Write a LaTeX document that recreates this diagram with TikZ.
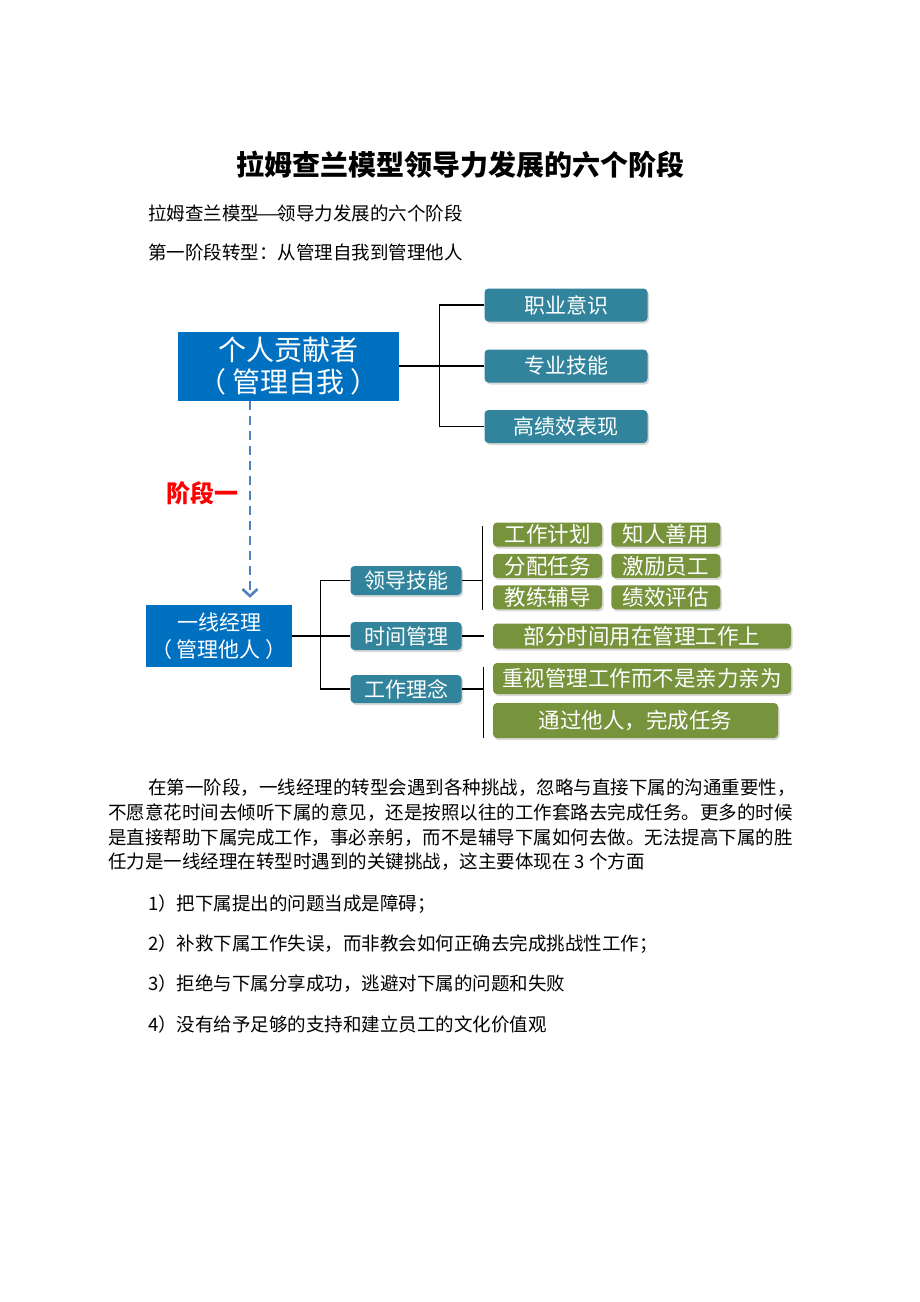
\documentclass[tikz,border=0pt]{standalone}
\usepackage{fontspec}
\usepackage{xcolor}
\usepackage{tikz}
\setmainfont{Noto Sans CJK SC}
\usetikzlibrary{calc}
\usetikzlibrary{shadows, positioning, arrows.meta}
\definecolor{boxblue}{HTML}{0070C0}
\definecolor{tealbox}{HTML}{31849B}
\definecolor{greenbox}{HTML}{77933C}
\definecolor{arrowblue}{HTML}{4F81BD}
\XeTeXlinebreaklocale "zh"
\XeTeXlinebreakskip=0pt plus 3pt

\begin{document}
\begin{tikzpicture}[x=1pt,y=-1pt,
    blue node/.style={fill=boxblue,text=white,align=center,inner sep=0pt},
    teal node/.style={fill=tealbox,text=white,rounded corners=4pt,inner sep=0pt,
      drop shadow={shadow xshift=1.5pt,shadow yshift=-2pt,opacity=0.3},
      font=\fontsize{21}{25}\selectfont},
    green node/.style={fill=greenbox,text=white,rounded corners=4pt,inner sep=0pt,
      drop shadow={shadow xshift=1.5pt,shadow yshift=-2pt,opacity=0.3},
      font=\fontsize{21.5}{25}\selectfont},
    small green/.style={green node,minimum width=109pt,minimum height=24pt},
    link/.style={draw=black,line width=1.3pt},
    stage arrow/.style={draw=arrowblue,line width=2.6pt,dash pattern=on 9pt off 6pt,
      -{Straight Barb[length=7pt,width=15pt]},shorten >=7pt},
    body text/.style={anchor=west,inner sep=0pt,font=\fontsize{18.5}{22}\selectfont}]

  \useasboundingbox (0,0) rectangle (920,1302);

  \node[font=\fontsize{28}{32}\selectfont\bfseries] (title) at (460.5,165) {拉姆查兰模型领导力发展的六个阶段};
  \node[body text] (sub1) at (148,213) {拉姆查兰模型\makebox[1em]{\scalebox{1.9}[1]{—}}领导力发展的六个阶段};
  \node[body text] (sub2) at (148,252) {第一阶段转型：从管理自我到管理他人};

  \node[blue node,minimum width=221pt,minimum height=69pt,font=\fontsize{28}{32}\selectfont] (self) at (288.5,366) {个人贡献者\\（ 管理自我 ）};
  \node[teal node,minimum width=163pt,minimum height=33pt] (t1) at (566,305) {职业意识};
  \node[teal node,minimum width=163pt,minimum height=33pt] (t2) at (566,366) {专业技能};
  \node[teal node,minimum width=163pt,minimum height=33pt] (t3) at (566,426.5) {高绩效表现};

  \node[font=\fontsize{24}{28}\selectfont\bfseries,text=red] (stage) at (202.5,493) {阶段一};

  \node[blue node,minimum width=146pt,minimum height=62pt,font=\fontsize{21}{27}\selectfont] (mgr) at (219,636) {一线经理\\（ 管理他人 ）};
  \node[teal node,minimum width=111pt,minimum height=29pt] (m1) at (406,580.5) {领导技能};
  \node[teal node,minimum width=111pt,minimum height=28pt] (m2) at (406,636) {时间管理};
  \node[teal node,minimum width=111pt,minimum height=28pt] (m3) at (406,689) {工作理念};

  \node[small green] (g1) at (547.5,534.5) {工作计划};
  \node[small green] (g2) [right=9pt of g1] {知人善用};
  \node[small green] (g3) [below=7pt of g1] {分配任务};
  \node[small green] (g4) [right=9pt of g3] {激励员工};
  \node[small green] (g5) [below=7pt of g3] {教练辅导};
  \node[small green] (g6) [right=9pt of g5] {绩效评估};
  \node[green node,minimum width=298pt,minimum height=25pt] (g7) at (642,636) {部分时间用在管理工作上};
  \node[green node,minimum width=298pt,minimum height=31pt] (g8) at (642,678.5) {重视管理工作而不是亲力亲为};
  \node[green node,minimum width=285pt,minimum height=35pt] (g9) at (635.5,720.5) {通过他人，完成任务};

  \coordinate (d) at (250,0);
  \draw[stage arrow] (self.south -| d) -- (mgr.north -| d);

  \draw[link] (self) -- (t2);
  \draw[link] (t1.west) -- ++(-45pt,0) |- (t3.west);

  \draw[link] (mgr) -- (m2);
  \draw[link] (m1.west) -- ++(-29.5pt,0) |- (m3.west);

  \draw[link] (m1.east) -- ++(21pt,0) coordinate (k1);
  \draw[link] ($(k1 |- g1.north)+(0,4)$) -- ($(k1 |- g5.south)+(0,0)$);
  \draw[link] (m2.east) -- ++(22pt,0) coordinate (k2);
  \draw[link] (m3.east) -- ++(21.5pt,0) coordinate (k3);
  \draw[link] ($(k3 |- g8.north)+(0,4)$) -- (k3 |- g9.south);

  \node[body text] (p1) at (148,788) {\makebox[660pt][s]{在第一阶段，一线经理的转型会遇到各种挑战，忽略与直接下属的沟通重要性，}};
  \node[body text] (p2) at (108,813) {\makebox[700pt][s]{不愿意花时间去倾听下属的意见，还是按照以往的工作套路去完成任务。更多的时候}};
  \node[body text] (p3) at (108,838) {\makebox[700pt][s]{是直接帮助下属完成工作，事必亲躬，而不是辅导下属如何去做。无法提高下属的胜}};
  \node[body text] (p4) at (108,862) {任力是一线经理在转型时遇到的关键挑战，这主要体现在 3 个方面};

  \node[body text] (l1) at (148,904) {1）把下属提出的问题当成是障碍；};
  \node[body text] (l2) at (148,944) {2）补救下属工作失误，而非教会如何正确去完成挑战性工作；};
  \node[body text] (l3) at (148,984) {3）拒绝与下属分享成功，逃避对下属的问题和失败};
  \node[body text] (l4) at (148,1024) {4）没有给予足够的支持和建立员工的文化价值观};

\end{tikzpicture}
\end{document}
